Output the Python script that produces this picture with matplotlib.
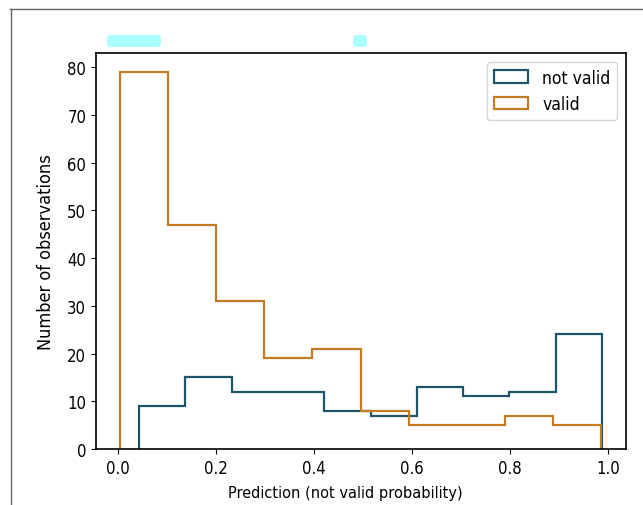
import numpy as np
import matplotlib
matplotlib.use("Agg")
import matplotlib.pyplot as plt
from matplotlib.lines import Line2D
from matplotlib.patches import FancyBboxPatch

# Data
labels = ["not valid", "valid"]
not_valid_edges = np.linspace(0.044, 0.987, 11)
not_valid_counts = [9, 15, 12, 12, 8, 7, 13, 11, 12, 24]
valid_edges = np.linspace(0.005, 0.985, 11)
valid_counts = [79, 47, 31, 19, 21, 8, 5, 5, 7, 5]

colors = ["#1d566b", "#c47c22"]

plt.rcParams["font.family"] = ["DejaVu Sans"]
plt.rcParams["font.stretch"] = "condensed"
FS = 12

W, H = 643, 506
fig = plt.figure(figsize=(W / 100, H / 100), dpi=100)
ax = fig.add_axes([96 / W, 1 - 450 / H, (626 - 96) / W, (450 - 54) / H])

ax.hist(not_valid_edges[:-1], bins=not_valid_edges, weights=not_valid_counts,
        histtype="step", color=colors[0], linewidth=1.6, label=labels[0])
ax.hist(valid_edges[:-1], bins=valid_edges, weights=valid_counts,
        histtype="step", color=colors[1], linewidth=1.6, label=labels[1])

ax.set_xticks([0.0, 0.2, 0.4, 0.6, 0.8, 1.0])
ax.set_yticks(range(0, 81, 10))
ax.tick_params(labelsize=FS)
ax.set_xlabel("Prediction (not valid probability)", fontsize=FS - 0.3)
ax.xaxis.set_label_coords(0.471, -0.092)
ax.set_ylabel("Number of observations", fontsize=FS + 1, labelpad=9)
for s in ax.spines.values():
    s.set_linewidth(1.2)

ax.legend(loc="upper right", fontsize=FS + 0.5)

# partial frame around the figure (screenshot border)
fig.add_artist(Line2D([10 / W, 1], [1 - 10 / H, 1 - 10 / H], color="#666666", lw=1))
fig.add_artist(Line2D([11 / W, 11 / W], [0, 1 - 10 / H], color="#666666", lw=1))

# light cyan marks above the plot
fig.add_artist(FancyBboxPatch((107 / W, 1 - 48 / H), 54 / W, 12 / H,
                              boxstyle="round,pad=0,rounding_size=0.006",
                              transform=fig.transFigure, color="#aaffff", lw=0))
fig.add_artist(FancyBboxPatch((353 / W, 1 - 48 / H), 14 / W, 12 / H,
                              boxstyle="round,pad=0,rounding_size=0.008",
                              transform=fig.transFigure, color="#aaffff", lw=0))

fig.savefig("out.png", dpi=100)
